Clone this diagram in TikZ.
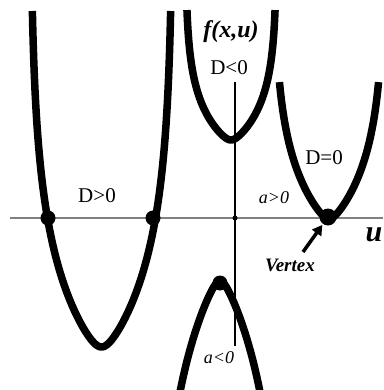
\documentclass[tikz,border=0pt]{standalone}
\usepackage{fontspec}
\setmainfont{Liberation Serif}
\usetikzlibrary{arrows.meta}
\begin{document}
\begin{tikzpicture}[x=1pt,y=-1pt,
  declare function={hx(\s,\A,\c,\r)=\s*sqrt((\r+\A*(1-exp(-\s*\s/\c)))^2-\r*\r)/max(abs(\s),0.01);},
  curve/.style={line width=7.5pt, line join=round},
  dotmark/.style={circle, fill=black, inner sep=0pt, minimum size=#1},
  lbl/.style={font=\fontsize{21}{23}\selectfont, inner sep=0pt},
  ilbl/.style={font=\fontsize{18}{20}\selectfont\itshape, inner sep=0pt},
  axisx/.style={gray, line width=2pt},
  axisy/.style={black, line width=1.2pt}]
\useasboundingbox (0,0) rectangle (383,390);
\fill[white] (0,0) rectangle (383,390);

% axes
\coordinate (xl) at (10,218);
\coordinate (xr) at (383,218);
\coordinate (yt) at (235,82);
\coordinate (yb) at (235,346);
\draw[axisx] (xl) -- (xr);
\draw[axisy] (yt) -- (yb);
\node[dotmark=5pt] (origin) at (235,218) {};

% D>0 curve
\draw[curve] plot[domain=-18.33:18.33, samples=141, smooth, variable=\s]
  ({101.5+hx(\s,62,100,10)}, {347-\s*\s});
% D<0 curve
\draw[curve] plot[domain=-11.4:11.4, samples=81, smooth, variable=\s]
  ({231+hx(\s,40,40,6)}, {140-\s*\s});
% D=0 curve
\draw[curve] plot[domain=-11.7:11.7, samples=81, smooth, variable=\s]
  ({329+hx(\s,50,65,6)}, {219-\s*\s});
% a<0 curve
\draw[curve] plot[domain=-10.7:10.7, samples=81, smooth, variable=\s]
  ({220+hx(\s,60,130,6)}, {281+\s*\s});

% dots
\node[dotmark=15pt] (r1) at (48,218) {};
\node[dotmark=15pt] (r2) at (153,218) {};
\node[dotmark=17pt] (vdot) at (328,217) {};
\node[dotmark=15pt] (tdot) at (220,283) {};

% labels
\node[inner sep=0pt, font=\fontsize{24}{26}\selectfont\bfseries\itshape] (fxu) at (231,32) {f(x,u)};
\node[lbl] (dneg) at (229,68) {D<0};
\node[lbl] (dzero) at (324,158) {D=0};
\node[lbl] (dpos) at (97,196) {D>0};
\node[ilbl] (apos) at (274,198) {a>0};
\node[ilbl] (aneg) at (219,358) {a<0};
\node[inner sep=0pt, font=\fontsize{19}{21}\selectfont\bfseries\itshape] (vlabel) at (290,265) {Vertex};
\node[inner sep=0pt, font=\fontsize{30}{32}\selectfont\bfseries\itshape] (ulabel) at (374,235) {u};

% arrow to vertex
\coordinate (atail) at (303,252);
\draw[line width=3.5pt, -{Triangle[length=10pt,width=11pt]}, shorten >=1pt] (atail) -- (vdot);
\end{tikzpicture}
\end{document}
